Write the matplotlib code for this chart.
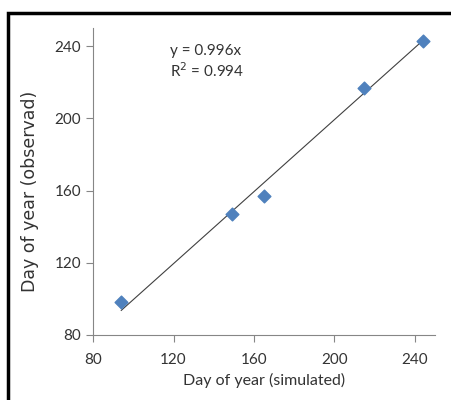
"""
Day of year: simulated vs observed
"""

import numpy as np
from matplotlib import pyplot as plt
from matplotlib.patches import Rectangle

simulated = [94, 149, 165, 215, 244]
observed = [98, 147, 157, 217, 243]
slope = 0.996
r2 = 0.994

plt.rcParams['font.family'] = ['Lato', 'DejaVu Sans']

fig = plt.figure(figsize=(4.52, 4.0), dpi=100)
ax = fig.add_axes([0.206, 0.1625, 0.756, 0.7675])

# trendline through origin
xs = np.array([min(simulated), max(simulated)])
ax.plot(xs, slope * xs, color='#404040', lw=0.8)
ax.scatter(simulated, observed, marker='D', s=42, color='#4f81bd', zorder=3)

ax.set_xlim(80, 250)
ax.set_ylim(80, 250)
ax.set_xticks([80, 120, 160, 200, 240])
ax.set_yticks([80, 120, 160, 200, 240])
for s in ['top', 'right']:
    ax.spines[s].set_visible(False)
for s in ['left', 'bottom']:
    ax.spines[s].set_color('#868686')
    ax.spines[s].set_linewidth(0.8)
ax.tick_params(colors='#868686', labelcolor='#333333', labelsize=11, length=5, width=0.8)
ax.tick_params(axis='x', pad=8)

ax.set_xlabel('Day of year (simulated)', fontsize=11.5, color='#333333', labelpad=4)
ax.set_ylabel('Day of year (observad)', fontsize=12.5, color='#333333',
              family=['DejaVu Sans'])
ax.yaxis.set_label_coords(-0.157, 0.469)

ax.text(0.225, 0.925, 'y = 0.996x', transform=ax.transAxes, fontsize=11, color='#333333', va='center')
ax.text(0.225, 0.86, 'R$^2$ = 0.994', transform=ax.transAxes, fontsize=11, color='#333333', va='center')

# outer frame
fig.patches.append(Rectangle((8 / 452, -0.1), 1.2, (400 - 13) / 400 + 0.1, transform=fig.transFigure,
                             fill=False, edgecolor='black', lw=2.5))

plt.savefig('out.png', dpi=100)
